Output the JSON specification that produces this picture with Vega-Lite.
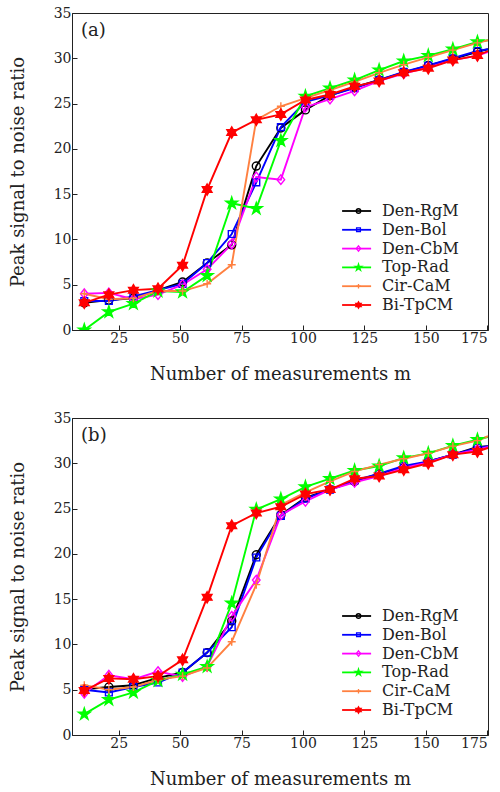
{
  "$schema": "https://vega.github.io/schema/vega-lite/v6.json",
  "padding": {"left": 8, "top": 5, "right": 5, "bottom": 5},
  "background": "white",
  "config": {
    "view": {"stroke": "#222", "strokeWidth": 1},
    "font": "DejaVu Serif",
    "axis": {
      "grid": false,
      "domainColor": "#222",
      "tickColor": "#222",
      "tickSize": -5,
      "labelFont": "DejaVu Serif",
      "labelFontSize": 14,
      "labelColor": "#222",
      "labelPadding": 6,
      "titleFont": "DejaVu Serif",
      "titleFontSize": 18,
      "titleFontWeight": "normal",
      "titleColor": "#222"
    },
    "legend": {
      "orient": "none",
      "title": null,
      "padding": 0,
      "labelFont": "DejaVu Serif",
      "labelFontSize": 16,
      "labelColor": "#222",
      "rowPadding": 2.8
    }
  },
  "datasets": {
    "a": [
      {"m": 11, "Den-RgM": 3.0, "Den-Bol": 3.2, "Den-CbM": 4.0, "Top-Rad": 0.0, "Cir-CaM": 4.0, "Bi-TpCM": 3.0},
      {"m": 21, "Den-RgM": 3.3, "Den-Bol": 3.2, "Den-CbM": 4.1, "Top-Rad": 2.0, "Cir-CaM": 3.4, "Bi-TpCM": 3.9},
      {"m": 31, "Den-RgM": 3.5, "Den-Bol": 3.7, "Den-CbM": 3.4, "Top-Rad": 2.9, "Cir-CaM": 3.5, "Bi-TpCM": 4.4},
      {"m": 41, "Den-RgM": 4.4, "Den-Bol": 4.4, "Den-CbM": 3.9, "Top-Rad": 4.3, "Cir-CaM": 4.3, "Bi-TpCM": 4.55},
      {"m": 51, "Den-RgM": 5.3, "Den-Bol": 5.1, "Den-CbM": 5.0, "Top-Rad": 4.2, "Cir-CaM": 4.3, "Bi-TpCM": 7.15},
      {"m": 61, "Den-RgM": 7.4, "Den-Bol": 7.4, "Den-CbM": 6.7, "Top-Rad": 6.0, "Cir-CaM": 5.1, "Bi-TpCM": 15.5},
      {"m": 71, "Den-RgM": 9.4, "Den-Bol": 10.6, "Den-CbM": 9.5, "Top-Rad": 14.0, "Cir-CaM": 7.2, "Bi-TpCM": 21.8},
      {"m": 81, "Den-RgM": 18.1, "Den-Bol": 16.3, "Den-CbM": 16.9, "Top-Rad": 13.4, "Cir-CaM": 23.2, "Bi-TpCM": 23.2},
      {"m": 91, "Den-RgM": 22.3, "Den-Bol": 22.4, "Den-CbM": 16.6, "Top-Rad": 20.9, "Cir-CaM": 24.7, "Bi-TpCM": 23.8},
      {"m": 101, "Den-RgM": 24.3, "Den-Bol": 25.2, "Den-CbM": 24.6, "Top-Rad": 25.8, "Cir-CaM": 25.6, "Bi-TpCM": 25.4},
      {"m": 111, "Den-RgM": 25.9, "Den-Bol": 25.9, "Den-CbM": 25.5, "Top-Rad": 26.7, "Cir-CaM": 26.5, "Bi-TpCM": 26.0},
      {"m": 121, "Den-RgM": 26.8, "Den-Bol": 26.7, "Den-CbM": 26.4, "Top-Rad": 27.6, "Cir-CaM": 27.4, "Bi-TpCM": 26.9},
      {"m": 131, "Den-RgM": 27.6, "Den-Bol": 27.6, "Den-CbM": 27.5, "Top-Rad": 28.7, "Cir-CaM": 28.4, "Bi-TpCM": 27.5},
      {"m": 141, "Den-RgM": 28.4, "Den-Bol": 28.5, "Den-CbM": 28.3, "Top-Rad": 29.7, "Cir-CaM": 29.3, "Bi-TpCM": 28.4},
      {"m": 151, "Den-RgM": 29.2, "Den-Bol": 29.2, "Den-CbM": 29.0, "Top-Rad": 30.3, "Cir-CaM": 30.1, "Bi-TpCM": 28.9},
      {"m": 161, "Den-RgM": 29.9, "Den-Bol": 30.0, "Den-CbM": 29.8, "Top-Rad": 31.0, "Cir-CaM": 30.9, "Bi-TpCM": 29.8},
      {"m": 171, "Den-RgM": 30.7, "Den-Bol": 30.8, "Den-CbM": 30.3, "Top-Rad": 31.8, "Cir-CaM": 31.7, "Bi-TpCM": 30.3},
      {"m": 175.3, "Den-RgM": 31.0, "Den-Bol": 31.0, "Den-CbM": 30.7, "Top-Rad": 32.0, "Cir-CaM": 32.0, "Bi-TpCM": 30.8}
    ],
    "b": [
      {"m": 11, "Den-RgM": 5.05, "Den-Bol": 5.0, "Den-CbM": 4.6, "Top-Rad": 2.3, "Cir-CaM": 5.5, "Bi-TpCM": 4.9},
      {"m": 21, "Den-RgM": 5.3, "Den-Bol": 4.7, "Den-CbM": 6.6, "Top-Rad": 3.9, "Cir-CaM": 5.0, "Bi-TpCM": 6.25},
      {"m": 31, "Den-RgM": 5.5, "Den-Bol": 5.3, "Den-CbM": 6.15, "Top-Rad": 4.7, "Cir-CaM": 5.3, "Bi-TpCM": 6.15},
      {"m": 41, "Den-RgM": 6.3, "Den-Bol": 5.8, "Den-CbM": 7.0, "Top-Rad": 6.0, "Cir-CaM": 6.1, "Bi-TpCM": 6.5},
      {"m": 51, "Den-RgM": 6.9, "Den-Bol": 6.9, "Den-CbM": 6.45, "Top-Rad": 6.7, "Cir-CaM": 6.5, "Bi-TpCM": 8.3},
      {"m": 61, "Den-RgM": 9.1, "Den-Bol": 9.1, "Den-CbM": 7.55, "Top-Rad": 7.55, "Cir-CaM": 7.4, "Bi-TpCM": 15.2},
      {"m": 71, "Den-RgM": 12.6, "Den-Bol": 11.9, "Den-CbM": 13.1, "Top-Rad": 14.55, "Cir-CaM": 10.3, "Bi-TpCM": 23.1},
      {"m": 81, "Den-RgM": 19.9, "Den-Bol": 19.6, "Den-CbM": 17.1, "Top-Rad": 24.9, "Cir-CaM": 16.6, "Bi-TpCM": 24.5},
      {"m": 91, "Den-RgM": 24.3, "Den-Bol": 24.2, "Den-CbM": 24.3, "Top-Rad": 26.05, "Cir-CaM": 25.4, "Bi-TpCM": 25.2},
      {"m": 101, "Den-RgM": 26.2, "Den-Bol": 26.1, "Den-CbM": 25.8, "Top-Rad": 27.4, "Cir-CaM": 26.8, "Bi-TpCM": 26.6},
      {"m": 111, "Den-RgM": 27.1, "Den-Bol": 27.1, "Den-CbM": 27.1, "Top-Rad": 28.3, "Cir-CaM": 28.0, "Bi-TpCM": 27.1},
      {"m": 121, "Den-RgM": 28.0, "Den-Bol": 28.1, "Den-CbM": 27.9, "Top-Rad": 29.2, "Cir-CaM": 29.1, "Bi-TpCM": 28.3},
      {"m": 131, "Den-RgM": 28.85, "Den-Bol": 28.85, "Den-CbM": 28.6, "Top-Rad": 29.7, "Cir-CaM": 29.85, "Bi-TpCM": 28.6},
      {"m": 141, "Den-RgM": 29.5, "Den-Bol": 29.7, "Den-CbM": 29.5, "Top-Rad": 30.6, "Cir-CaM": 30.5, "Bi-TpCM": 29.3},
      {"m": 151, "Den-RgM": 30.2, "Den-Bol": 30.2, "Den-CbM": 30.1, "Top-Rad": 31.1, "Cir-CaM": 31.1, "Bi-TpCM": 30.0},
      {"m": 161, "Den-RgM": 30.95, "Den-Bol": 30.95, "Den-CbM": 30.95, "Top-Rad": 31.95, "Cir-CaM": 31.9, "Bi-TpCM": 30.95},
      {"m": 171, "Den-RgM": 31.8, "Den-Bol": 31.7, "Den-CbM": 31.5, "Top-Rad": 32.6, "Cir-CaM": 32.5, "Bi-TpCM": 31.3},
      {"m": 175.3, "Den-RgM": 31.9, "Den-Bol": 31.9, "Den-CbM": 31.8, "Top-Rad": 32.9, "Cir-CaM": 33.0, "Bi-TpCM": 31.7}
    ]
  },
  "resolve": {
    "scale": {"color": "independent", "stroke": "independent", "fill": "independent", "shape": "independent"},
    "legend": {"color": "independent", "stroke": "independent", "fill": "independent", "shape": "independent"}
  },
  "spacing": 26,
  "vconcat": [
    {
      "width": 416,
      "height": 317,
      "data": {"name": "a"},
      "layer": [
        {
          "transform": [{"fold": ["Den-RgM", "Den-Bol", "Den-CbM", "Top-Rad", "Cir-CaM", "Bi-TpCM"], "as": ["series", "psnr"]}],
          "mark": {"type": "line", "strokeWidth": 1.9, "clip": true},
          "encoding": {
            "x": {"field": "m", "type": "quantitative", "scale": {"domain": [6, 175.3], "nice": false, "zero": false},
                  "axis": {"values": [25, 50, 75, 100, 125, 150, 175], "title": "Number of measurements m", "titlePadding": 20}},
            "y": {"field": "psnr", "type": "quantitative", "scale": {"domain": [0, 35], "nice": false},
                  "axis": {"values": [0, 5, 10, 15, 20, 25, 30, 35], "title": "Peak signal to noise ratio", "titlePadding": 26}},
            "color": {
              "field": "series", "type": "nominal",
              "scale": {"domain": ["Den-RgM", "Den-Bol", "Den-CbM", "Top-Rad", "Cir-CaM", "Bi-TpCM"],
                        "range": ["#000000", "#0000ff", "#ff00ff", "#00ff00", "#ff8040", "#ff0000"]},
              "legend": {"legendX": 276.6, "legendY": 190, "symbolType": "M-3.625,0L3.625,0", "symbolSize": 64, "symbolStrokeWidth": 1.8, "labelOffset": 17.4}
            }
          }
        },
        {
          "transform": [
            {"filter": "datum.m < 175"},
            {"fold": ["Den-RgM", "Den-Bol", "Den-CbM", "Top-Rad", "Cir-CaM", "Bi-TpCM"], "as": ["method", "psnr"]}
          ],
          "mark": {"type": "point", "size": 64, "strokeWidth": 1.4, "opacity": 1, "clip": true},
          "encoding": {
            "x": {"field": "m", "type": "quantitative"},
            "y": {"field": "psnr", "type": "quantitative"},
            "shape": {"field": "method", "type": "nominal", "sort": null,
                      "scale": {"range": ["circle", "M-0.85,-0.85H0.85V0.85H-0.85Z", "M0,-1.2L0.95,0L0,1.2L-0.95,0Z",
                                          "M0,-1.55L0.348,-0.479L1.474,-0.479L0.563,0.183L0.911,1.254L0,0.592L-0.911,1.254L-0.563,0.183L-1.474,-0.479L-0.348,-0.479Z",
                                          "M-1,0H1M0,-1V1",
                                          "M0,-1.4L1.212,0.7L-1.212,0.7ZM0,1.4L-1.212,-0.7L1.212,-0.7Z"]},
                      "legend": {"legendX": 278.5, "legendY": 190, "symbolSize": 20, "symbolStrokeWidth": 1.3, "labelExpr": "''"}},
            "stroke": {"field": "method", "type": "nominal", "sort": null,
                       "scale": {"range": ["#000000", "#0000ff", "#ff00ff", "#00ff00", "#ff8040", "#ff0000"]},
                       "legend": {"legendX": 278.5, "legendY": 190, "symbolSize": 20, "symbolStrokeWidth": 1.3, "labelExpr": "''"}},
            "fill": {"field": "method", "type": "nominal", "sort": null,
                     "scale": {"range": ["transparent", "transparent", "transparent", "#00ff00", "transparent", "#ff0000"]},
                     "legend": {"legendX": 278.5, "legendY": 190, "symbolSize": 20, "symbolStrokeWidth": 1.3, "labelExpr": "''"}}
          }
        },
        {
          "data": {"values": [{"m": 9.7, "psnr": 33.0, "label": "(a)"}]},
          "mark": {"type": "text", "align": "left", "baseline": "middle", "font": "DejaVu Serif", "fontSize": 18, "color": "#222"},
          "encoding": {
            "x": {"field": "m", "type": "quantitative"},
            "y": {"field": "psnr", "type": "quantitative"},
            "text": {"field": "label"}
          }
        }
      ]
    },
    {
      "width": 416,
      "height": 317,
      "data": {"name": "b"},
      "layer": [
        {
          "transform": [{"fold": ["Den-RgM", "Den-Bol", "Den-CbM", "Top-Rad", "Cir-CaM", "Bi-TpCM"], "as": ["series", "psnr"]}],
          "mark": {"type": "line", "strokeWidth": 1.9, "clip": true},
          "encoding": {
            "x": {"field": "m", "type": "quantitative", "scale": {"domain": [6, 175.3], "nice": false, "zero": false},
                  "axis": {"values": [25, 50, 75, 100, 125, 150, 175], "title": "Number of measurements m", "titlePadding": 20}},
            "y": {"field": "psnr", "type": "quantitative", "scale": {"domain": [0, 35], "nice": false},
                  "axis": {"values": [0, 5, 10, 15, 20, 25, 30, 35], "title": "Peak signal to noise ratio", "titlePadding": 26}},
            "color": {
              "field": "series", "type": "nominal",
              "scale": {"domain": ["Den-RgM", "Den-Bol", "Den-CbM", "Top-Rad", "Cir-CaM", "Bi-TpCM"],
                        "range": ["#000000", "#0000ff", "#ff00ff", "#00ff00", "#ff8040", "#ff0000"]},
              "legend": {"legendX": 276.6, "legendY": 190, "symbolType": "M-3.625,0L3.625,0", "symbolSize": 64, "symbolStrokeWidth": 1.8, "labelOffset": 17.4}
            }
          }
        },
        {
          "transform": [
            {"filter": "datum.m < 175"},
            {"fold": ["Den-RgM", "Den-Bol", "Den-CbM", "Top-Rad", "Cir-CaM", "Bi-TpCM"], "as": ["method", "psnr"]}
          ],
          "mark": {"type": "point", "size": 64, "strokeWidth": 1.4, "opacity": 1, "clip": true},
          "encoding": {
            "x": {"field": "m", "type": "quantitative"},
            "y": {"field": "psnr", "type": "quantitative"},
            "shape": {"field": "method", "type": "nominal", "sort": null,
                      "scale": {"range": ["circle", "M-0.85,-0.85H0.85V0.85H-0.85Z", "M0,-1.2L0.95,0L0,1.2L-0.95,0Z",
                                          "M0,-1.55L0.348,-0.479L1.474,-0.479L0.563,0.183L0.911,1.254L0,0.592L-0.911,1.254L-0.563,0.183L-1.474,-0.479L-0.348,-0.479Z",
                                          "M-1,0H1M0,-1V1",
                                          "M0,-1.4L1.212,0.7L-1.212,0.7ZM0,1.4L-1.212,-0.7L1.212,-0.7Z"]},
                      "legend": {"legendX": 278.5, "legendY": 190, "symbolSize": 20, "symbolStrokeWidth": 1.3, "labelExpr": "''"}},
            "stroke": {"field": "method", "type": "nominal", "sort": null,
                       "scale": {"range": ["#000000", "#0000ff", "#ff00ff", "#00ff00", "#ff8040", "#ff0000"]},
                       "legend": {"legendX": 278.5, "legendY": 190, "symbolSize": 20, "symbolStrokeWidth": 1.3, "labelExpr": "''"}},
            "fill": {"field": "method", "type": "nominal", "sort": null,
                     "scale": {"range": ["transparent", "transparent", "transparent", "#00ff00", "transparent", "#ff0000"]},
                     "legend": {"legendX": 278.5, "legendY": 190, "symbolSize": 20, "symbolStrokeWidth": 1.3, "labelExpr": "''"}}
          }
        },
        {
          "data": {"values": [{"m": 9.7, "psnr": 33.0, "label": "(b)"}]},
          "mark": {"type": "text", "align": "left", "baseline": "middle", "font": "DejaVu Serif", "fontSize": 18, "color": "#222"},
          "encoding": {
            "x": {"field": "m", "type": "quantitative"},
            "y": {"field": "psnr", "type": "quantitative"},
            "text": {"field": "label"}
          }
        }
      ]
    }
  ]
}
